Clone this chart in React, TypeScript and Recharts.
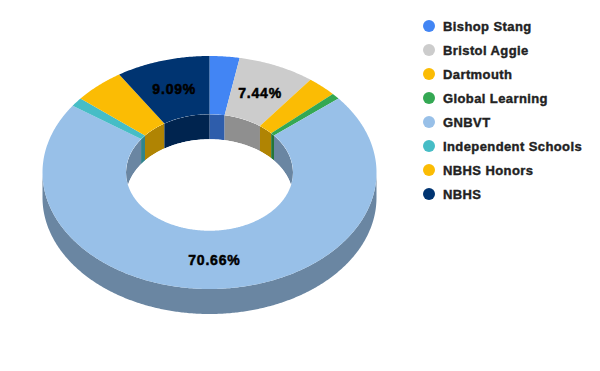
import { PieChart, Pie, Cell, Legend } from 'recharts';

const schools = [
  'Bishop Stang',
  'Bristol Aggie',
  'Dartmouth',
  'Global Learning',
  'GNBVT',
  'Independent Schools',
  'NBHS Honors',
  'NBHS',
];
const students = [7, 18, 7, 2, 171, 3, 12, 22];
const colors = ['#4285f4', '#cccccc', '#fbbc04', '#34a853', '#98c0e8', '#46bdc6', '#fbbc04', '#003471'];

const data = schools.map((name, i) => ({ name, value: students[i] }));

const FONT = 'Arial, "Liberation Sans", sans-serif';
const TILT = 0.6976; // vertical squash of the 3d pie
const DEPTH = 25;
const RAD = Math.PI / 180;

const UPPER = [[0, 90], [-270, -180]];
const LOWER = [[-180, 0]];

function shade(hex: string, f: number) {
  const n = parseInt(hex.slice(1), 16);
  const c = [(n >> 16) & 255, (n >> 8) & 255, n & 255].map((v) => Math.round(v * f));
  return `rgb(${c[0]},${c[1]},${c[2]})`;
}

function arcPts(cx: number, cy: number, r: number, from: number, to: number, dy = 0) {
  const n = Math.max(2, Math.ceil(Math.abs(to - from) / 0.5) + 1);
  const pts: number[][] = [];
  for (let k = 0; k < n; k++) {
    const a = (from + ((to - from) * k) / (n - 1)) * RAD;
    pts.push([cx + r * Math.cos(a), cy - r * TILT * Math.sin(a) + dy]);
  }
  return pts;
}

const toPath = (pts: number[][]) =>
  'M' + pts.map((p) => p[0].toFixed(2) + ',' + p[1].toFixed(2)).join('L') + 'Z';

function overlap(lo: number, hi: number, ranges: number[][]) {
  return ranges
    .map(([a, b]) => [Math.max(lo, a), Math.min(hi, b)])
    .filter(([a, b]) => b > a);
}

function Slice3D(props: any) {
  const { cx, cy, innerRadius, outerRadius, startAngle, endAngle, fill } = props;
  const lo = Math.min(startAngle, endAngle);
  const hi = Math.max(startAngle, endAngle);
  const side = shade(fill, 0.7);
  const topFace = [
    ...arcPts(cx, cy, outerRadius, startAngle, endAngle),
    ...arcPts(cx, cy, innerRadius, endAngle, startAngle),
  ];
  const outerWalls = overlap(lo, hi, LOWER).map(([a, b]) => [
    ...arcPts(cx, cy, outerRadius, a, b),
    ...arcPts(cx, cy, outerRadius, b, a, DEPTH),
  ]);
  const innerWalls = overlap(lo, hi, UPPER).map(([a, b]) => [
    ...arcPts(cx, cy, innerRadius, a, b),
    ...arcPts(cx, cy, innerRadius, b, a, DEPTH),
  ]);
  const maskId = `hole-${Math.round(startAngle * 100)}`;

  return (
    <g>
      <defs>
        <mask id={maskId} maskUnits="userSpaceOnUse" x={0} y={0} width={600} height={371}>
          <ellipse cx={cx} cy={cy} rx={innerRadius} ry={innerRadius * TILT} fill="#fff" />
          <ellipse cx={cx} cy={cy + DEPTH} rx={innerRadius} ry={innerRadius * TILT} fill="#000" />
        </mask>
      </defs>
      {outerWalls.map((w, i) => (
        <path key={'o' + i} d={toPath(w)} fill={side} />
      ))}
      {innerWalls.map((w, i) => (
        <path key={'i' + i} d={toPath(w)} fill={side} mask={`url(#${maskId})`} />
      ))}
      <path d={toPath(topFace)} fill={fill} />
    </g>
  );
}

function renderLabel(props: any) {
  const { cx, cy, midAngle, innerRadius, outerRadius, percent } = props;
  if (percent < 0.06) return null;
  const r = (innerRadius + outerRadius) / 2;
  const x = cx + r * Math.cos(midAngle * RAD);
  const y = cy - r * TILT * Math.sin(midAngle * RAD);
  return (
    <text
      x={x}
      y={y}
      textAnchor="middle"
      dominantBaseline="central"
      fill="#000"
      stroke="#000"
      strokeWidth={0.5}
      fontFamily={FONT}
      fontWeight={700}
      fontSize={14}
      letterSpacing={0.8}
    >
      {(percent * 100).toFixed(2) + '%'}
    </text>
  );
}

function LegendList({ payload }: any) {
  const items = [...(payload || [])].sort(
    (a: any, b: any) => schools.indexOf(a.value) - schools.indexOf(b.value)
  );
  return (
    <div
      style={{
        fontFamily: FONT,
        fontWeight: 700,
        fontSize: 13,
        color: '#222',
        letterSpacing: 0.4,
        WebkitTextStroke: '0.4px #222',
      }}
    >
      {items.map((item: any) => (
        <div key={item.value} style={{ height: 24, display: 'flex', alignItems: 'center' }}>
          <span
            style={{
              width: 12,
              height: 12,
              borderRadius: '50%',
              background: item.color,
              marginRight: 8,
              display: 'inline-block',
            }}
          />
          {item.value}
        </div>
      ))}
    </div>
  );
}

export default function App() {
  return (
    <div style={{ position: 'absolute', left: 0, top: 0, background: '#fff' }}>
      <PieChart width={600} height={371} margin={{ top: 0, right: 0, bottom: 0, left: 0 }}>
        <Pie
          data={data}
          dataKey="value"
          nameKey="name"
          cx={209.5}
          cy={172.5}
          innerRadius={83.5}
          outerRadius={167}
          startAngle={90}
          endAngle={-270}
          stroke="none"
          shape={Slice3D}
          label={renderLabel}
          labelLine={false}
          isAnimationActive={false}
        >
          {data.map((d, i) => (
            <Cell key={d.name} fill={colors[i]} />
          ))}
        </Pie>
        <Legend
          layout="vertical"
          content={LegendList}
          wrapperStyle={{ left: 423, top: 14, width: 'auto' }}
        />
      </PieChart>
    </div>
  );
}
